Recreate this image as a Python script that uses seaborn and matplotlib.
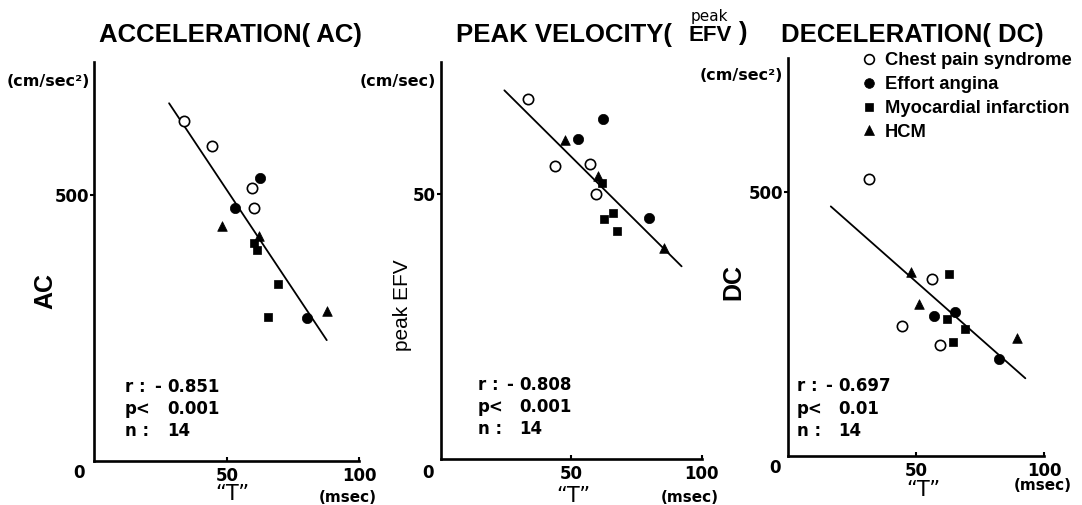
import numpy as np
import pandas as pd
import matplotlib
matplotlib.use("Agg")
import matplotlib.pyplot as plt
import seaborn as sns
from matplotlib.lines import Line2D

sns.set_theme(style="white")
plt.rcParams["font.family"] = ["Liberation Sans", "DejaVu Sans"]
plt.rcParams["text.color"] = "black"

# groups, same order of points in every panel
groups = ["Chest pain syndrome", "Effort angina", "Myocardial infarction", "HCM"]
point_group = (["Chest pain syndrome"] * 4 + ["Effort angina"] * 3
               + ["Myocardial infarction"] * 4 + ["HCM"] * 3)

# acceleration (AC)
ac_t = [33.9, 44.3, 59.6, 60.4, 62.5, 53.1, 80.4, 60.3, 61.3, 69.2, 65.4, 48.1, 62.3, 87.7]
ac_val = [639, 592, 513, 476, 531, 475, 268, 409, 397, 332, 271, 442, 423, 282]
ac_fit_t = [28.2, 87.7]
ac_fit = [672, 227]
ac_stats = ["- 0.851", "0.001", "14"]

# peak velocity (peak EFV)
efv_t = [33.5, 43.7, 57.2, 59.3, 62.3, 52.4, 79.9, 61.9, 66.1, 62.5, 67.4, 47.6, 60.1, 85.7]
efv_val = [68.0, 55.4, 55.7, 50.0, 64.2, 60.4, 45.6, 52.1, 46.5, 45.3, 43.0, 60.2, 53.4, 39.9]
efv_fit_t = [24.3, 92.3]
efv_fit = [69.6, 36.4]
efv_stats = ["- 0.808", "0.001", "14"]

# deceleration (DC)
dc_t = [31.6, 56.0, 44.5, 59.5, 65.1, 56.9, 82.4, 62.9, 61.9, 69.0, 64.5, 47.8, 51.2, 89.6]
dc_val = [524, 335, 246, 209, 273, 265, 183, 344, 259, 240, 216, 348, 287, 223]
dc_fit_t = [16.6, 92.7]
dc_fit = [472, 147]
dc_stats = ["- 0.697", "0.01", "14"]

W, H = 1082, 505


def px(x, y):
    return x / W, 1 - y / H


# wide font for numbers and small labels, narrow one for titles
wide = ["DejaVu Sans"]
narrow = ["Liberation Sans", "DejaVu Sans"]

marker_style = {
    "Chest pain syndrome": dict(marker="o", color="white", edgecolor="black", linewidth=1.2, s=55),
    "Effort angina": dict(marker="o", color="black", edgecolor="black", linewidth=0.5, s=55),
    "Myocardial infarction": dict(marker="s", color="black", edgecolor="black", linewidth=0.5, s=34),
    "HCM": dict(marker="^", color="black", edgecolor="black", linewidth=0.5, s=48),
}

fig = plt.figure(figsize=(W / 100, H / 100), dpi=100)

panels = [
    dict(rect=[0.0872, 0.0871, 0.2449, 0.7907], t=ac_t, v=ac_val, ft=ac_fit_t, fv=ac_fit,
         top=750, ytick=500, ytl="500"),
    dict(rect=[0.4076, 0.0905, 0.2409, 0.7873], t=efv_t, v=efv_val, ft=efv_fit_t, fv=efv_fit,
         top=75, ytick=50, ytl="50"),
    dict(rect=[0.7286, 0.0970, 0.2363, 0.7875], t=dc_t, v=dc_val, ft=dc_fit_t, fv=dc_fit,
         top=752, ytick=500, ytl="500"),
]

for p in panels:
    ax = fig.add_axes(p["rect"])
    df = pd.DataFrame({"T": p["t"], "val": p["v"], "group": point_group})
    sns.lineplot(x=p["ft"], y=p["fv"], ax=ax, color="black", linewidth=1.3)
    for g in groups:
        sub = df[df["group"] == g]
        sns.scatterplot(data=sub, x="T", y="val", ax=ax, legend=False, zorder=3,
                        **marker_style[g])
    ax.set_xlim(0, 100)
    ax.set_ylim(0, p["top"])
    ax.set_xticks([50, 100])
    ax.set_xticklabels(["50", "100"], fontweight="bold", fontsize=12, family=wide)
    ax.set_yticks([p["ytick"]])
    ax.set_yticklabels([p["ytl"]], fontweight="bold", fontsize=12, family=wide)
    ax.tick_params(axis="x", bottom=True, direction="in", length=3, width=1.5,
                   color="black", pad=4, labelcolor="black")
    ax.tick_params(axis="y", left=True, direction="out", length=3, width=1.5,
                   color="black", pad=1, labelcolor="black")
    ax.set_xlabel("")
    ax.set_ylabel("")
    sns.despine(ax=ax)
    for side in ["left", "bottom"]:
        ax.spines[side].set_color("black")
        ax.spines[side].set_linewidth(1.9)

bold = dict(fontweight="bold", color="black")

# titles
fig.text(*px(230, 35), "ACCELERATION( AC)", ha="center", va="center", fontsize=18.5,
         family=narrow, **bold)
fig.text(*px(456, 35), "PEAK VELOCITY(", ha="left", va="center", fontsize=18.5,
         family=narrow, **bold)
fig.text(*px(709, 17), "peak", ha="center", va="center", fontsize=11, family=wide, color="black")
fig.text(*px(710, 35), "EFV", ha="center", va="center", fontsize=16, family=narrow, **bold)
fig.text(*px(742, 33), ")", ha="center", va="center", fontsize=18.5, family=narrow, **bold)
fig.text(*px(912, 35), "DECELERATION( DC)", ha="center", va="center", fontsize=18.5,
         family=narrow, **bold)

# units
fig.text(*px(90, 81), "(cm/sec²)", ha="right", va="center", fontsize=11.5, family=wide, **bold)
fig.text(*px(436, 82), "(cm/sec)", ha="right", va="center", fontsize=11.5, family=wide, **bold)
fig.text(*px(783, 75), "(cm/sec²)", ha="right", va="center", fontsize=11.5, family=wide, **bold)

# y labels
fig.text(*px(45, 291), "AC", rotation=90, ha="center", va="center", fontsize=18,
         family=narrow, **bold)
fig.text(*px(403, 305), "peak EFV", rotation=90, ha="center", va="center", fontsize=15,
         family=narrow, color="black")
fig.text(*px(733, 282), "DC", rotation=90, ha="center", va="center", fontsize=18,
         family=narrow, **bold)

# x labels
for zx, zy, tx, ty, mx, my in [(79, 473, 232, 494, 348, 497), (428, 473, 573, 496, 690, 497),
                               (775, 468, 923, 490, 1043, 485)]:
    fig.text(*px(zx, zy), "0", ha="center", va="center", fontsize=12, family=wide, **bold)
    fig.text(*px(tx, ty), "\u201cT\u201d", ha="center", va="center", fontsize=15,
             family=wide, color="black")
    fig.text(*px(mx, my), "(msec)", ha="center", va="center", fontsize=11, family=wide, **bold)

# statistics
for stats, xl, xv, rows in [(ac_stats, 125, 167, (387, 409, 431)),
                            (efv_stats, 478, 519, (385, 407, 429)),
                            (dc_stats, 797, 838, (386, 409, 431))]:
    fig.text(*px(xl, rows[0]), "r :", ha="left", va="center", fontsize=12, family=wide, **bold)
    fig.text(*px(xl, rows[1]), "p<", ha="left", va="center", fontsize=12, family=wide, **bold)
    fig.text(*px(xl, rows[2]), "n :", ha="left", va="center", fontsize=12, family=wide, **bold)
    r_sign, r_num = stats[0].split(" ")
    fig.text(*px(xv - 6, rows[0]), r_sign, ha="right", va="center", fontsize=12, family=wide, **bold)
    fig.text(*px(xv, rows[0]), r_num, ha="left", va="center", fontsize=12, family=wide, **bold)
    fig.text(*px(xv, rows[1]), stats[1], ha="left", va="center", fontsize=12, family=wide, **bold)
    fig.text(*px(xv, rows[2]), stats[2], ha="left", va="center", fontsize=12, family=wide, **bold)

# legend
handles = []
for g in groups:
    st = marker_style[g]
    handles.append(Line2D([], [], linestyle="", marker=st["marker"],
                          markerfacecolor=st["color"], markeredgecolor="black",
                          markeredgewidth=1.2 if g == groups[0] else 0.5,
                          markersize=7 if st["marker"] != "s" else 6))
fig.legend(handles, groups, loc="upper left", bbox_to_anchor=px(862, 52), frameon=False,
           prop={"weight": "bold", "size": 13.2, "family": narrow}, handlelength=0.8,
           handletextpad=0.45, labelspacing=0.38, borderaxespad=0, borderpad=0,
           labelcolor="black")

fig.savefig("out.png", dpi=100, facecolor="white")
